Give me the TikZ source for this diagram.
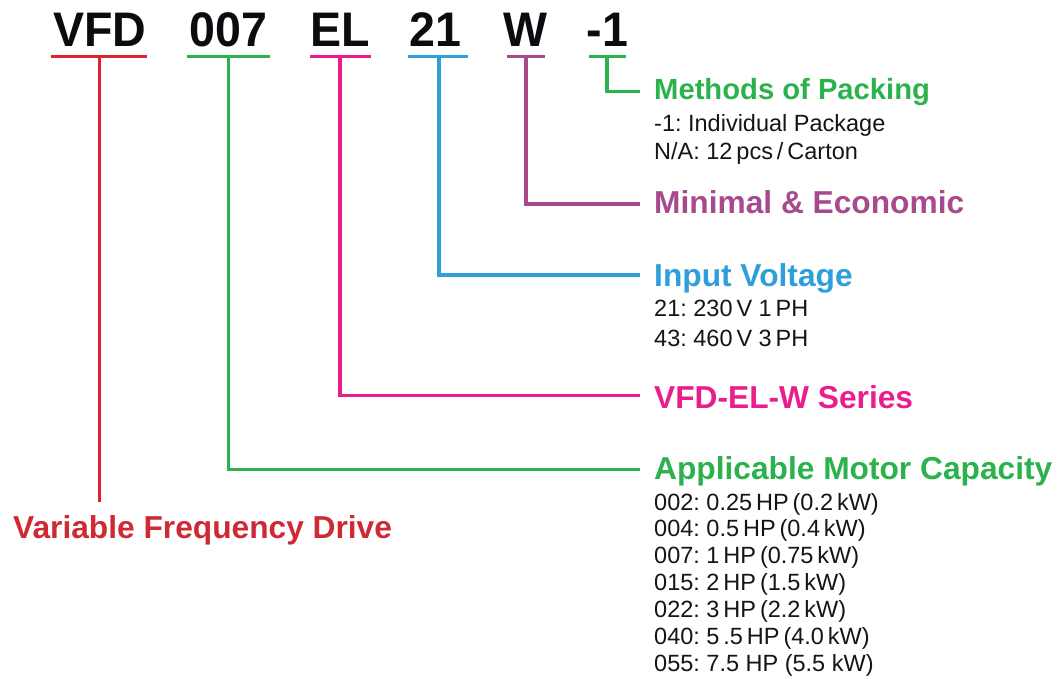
\documentclass[tikz,border=0pt]{standalone}
\usepackage{fontspec}
\setmainfont{Liberation Sans}
\newfontfamily\codefont[FakeStretch=0.96]{Liberation Sans}
\frenchspacing
\definecolor{vred}{HTML}{DC2430}
\definecolor{vredtext}{HTML}{CD2A33}
\definecolor{vgreen}{HTML}{2BB24C}
\definecolor{vpink}{HTML}{E91E8C}
\definecolor{vblue}{HTML}{2E9FDA}
\definecolor{vpurple}{HTML}{A8488D}
\definecolor{ink}{HTML}{0B0B10}
\definecolor{bodyink}{HTML}{151515}
\begin{document}
\begin{tikzpicture}[x=1pt,y=-1pt,
  codetext/.style={font=\codefont\fontsize{48.5}{48}\selectfont\bfseries, text=ink, inner sep=0pt, anchor=base},
  headtext/.style={font=\fontsize{31.7}{32}\selectfont\bfseries, inner sep=0pt, anchor=base west},
  bodytext/.style={font=\fontsize{23.5}{27}\selectfont\frenchspacing, text=bodyink, inner sep=0pt, anchor=base west},
  link/.style={line width=3.3pt},
  uline/.style={line width=3.3pt}]
\useasboundingbox (0,0) rectangle (1062,679);

% ---- code letters ----
\node[codetext] (cVFD) at (99.8,46.7) {VFD};
\node[codetext] (c007) at (228.3,46.7) {007};
\node[codetext] (cEL)  at (340,46.7) {EL};
\node[codetext] (c21)  at (435.5,46.7) {21};
\node[codetext] (cW)   at (525.3,46.7) {W};
\node[codetext] (cPk)  at (607.3,46.7) {-1};

% ---- underline centres ----
\coordinate (uVFD) at (99.3,56.7);
\coordinate (u007) at (228.7,56.7);
\coordinate (uEL)  at (340,56.7);
\coordinate (u21)  at (439,56.7);
\coordinate (uW)   at (526,56.7);
\coordinate (uPk)  at (607,56.7);

\draw[uline,vred]    (50.7,56.7) -- (147,56.7);
\draw[uline,vgreen]  (187,56.7) -- (270,56.7);
\draw[uline,vpink]   (310,56.7) -- (370.7,56.7);
\draw[uline,vblue]   (408,56.7) -- (468,56.7);
\draw[uline,vpurple] (507,56.7) -- (544.5,56.7);
\draw[uline,vgreen]  (589,56.7) -- (626,56.7);

% ---- headings ----
\node[headtext, text=vgreen, font=\fontsize{29.2}{30}\selectfont\bfseries] (hPk) at (654,99.3) {Methods of Packing};
\node[bodytext] (bPk1) at (654,131.7) {-1: Individual Package};
\node[bodytext] (bPk2) at (654,160) {N/A: 12\,pcs\,/\,Carton};

\node[headtext, text=vpurple] (hW) at (654,214) {Minimal \& Economic};

\node[headtext, text=vblue] (h21) at (654,286) {Input Voltage};
\node[bodytext] (b211) at (654,316.7) {21: 230\,V 1\,PH};
\node[bodytext] (b212) at (654,346) {43: 460\,V 3\,PH};

\node[headtext, text=vpink] (hEL) at (654,408) {VFD-EL-W Series};

\node[headtext, text=vgreen] (h007) at (654,479.3) {Applicable Motor Capacity};
\node[bodytext] (m1) at (654,510)   {002: 0.25\,HP\,(0.2\,kW)};
\node[bodytext] (m2) at (654,536.7) {004: 0.5\,HP\,(0.4\,kW)};
\node[bodytext] (m3) at (654,563.3) {007: 1\,HP\,(0.75\,kW)};
\node[bodytext] (m4) at (654,590)   {015: 2\,HP\,(1.5\,kW)};
\node[bodytext] (m5) at (654,617.5) {022: 3\,HP\,(2.2\,kW)};
\node[bodytext] (m6) at (654,644.5) {040: 5\,.5\,HP\,(4.0\,kW)};
\node[bodytext] (m7) at (654,671.5) {055: 7.5 HP (5.5 kW)};

\node[headtext, text=vredtext, anchor=base west] (hVFD) at (13,538) {Variable Frequency Drive};

% ---- connector ends ----
\coordinate (ePk)  at (640,91.3);
\coordinate (eW)   at (640,204);
\coordinate (e21)  at (640,275);
\coordinate (eEL)  at (640,395.7);
\coordinate (e007) at (640,469.3);
\coordinate (eVFD) at (99.3,501.7);

\draw[link,vgreen]  (uPk) |- (ePk);
\draw[link,vpurple] (uW) |- (eW);
\draw[link,vblue]   (u21) |- (e21);
\draw[link,vpink]   (uEL) |- (eEL);
\draw[link,vgreen]  (u007) |- (e007);
\draw[link,vred]    (uVFD) -- (eVFD);
\end{tikzpicture}
\end{document}
